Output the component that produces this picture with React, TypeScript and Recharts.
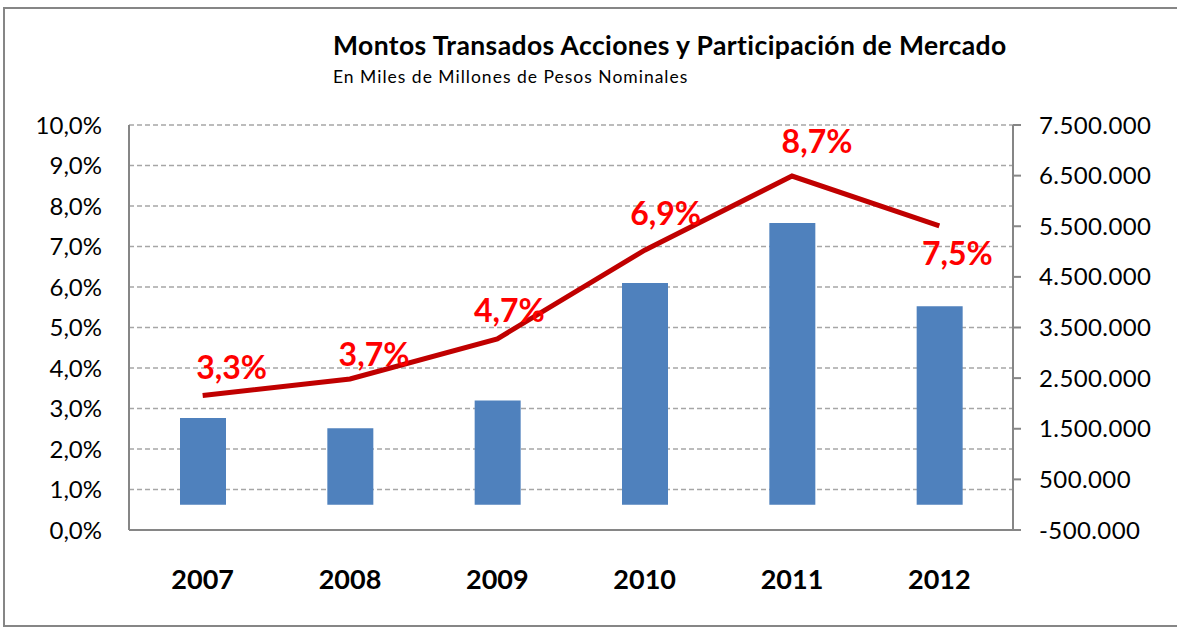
import React from 'react';
import { ComposedChart, Bar, Line, XAxis, YAxis, CartesianGrid } from 'recharts';

const years = ['2007', '2008', '2009', '2010', '2011', '2012'];
// montos transados (miles de millones de pesos), eje derecho
const montos = [1712000, 1509000, 2060000, 4380000, 5565000, 3920000];
// participación de mercado, eje izquierdo
const participacion = [0.0332, 0.0373, 0.0472, 0.0691, 0.0874, 0.0751];

const leftTicks = [0, 0.01, 0.02, 0.03, 0.04, 0.05, 0.06, 0.07, 0.08, 0.09, 0.1];
const rightTicks = [-500000, 500000, 1500000, 2500000, 3500000, 4500000, 5500000, 6500000, 7500000];

// desplazamiento manual de las etiquetas de la línea (como en el Excel original)
const labelOffsets = [
  [29, -29],
  [24, -25],
  [12, -29],
  [21, -38],
  [25, -36],
  [18, 27],
];

const FONT = 'Lato, "Open Sans", sans-serif';
const AXIS = '#868686';

const data = years.map((year, i) => ({
  year,
  monto: montos[i],
  part: participacion[i],
}));

const fmtPct = (v: number) => (v * 100).toFixed(1).replace('.', ',') + '%';
const fmtNum = (v: number) =>
  (v < 0 ? '-' : '') + String(Math.abs(v)).replace(/\B(?=(\d{3})+(?!\d))/g, '.');

const renderLabel = (props: any) => {
  const { x, y, value, index } = props;
  const [dx, dy] = labelOffsets[index] || [0, -20];
  return (
    <text
      key={`lbl-${index}`}
      x={x + dx}
      y={y + dy}
      textAnchor="middle"
      dominantBaseline="central"
      fill="#FF0000"
      fontSize={32}
      fontWeight="bold"
      fontFamily={FONT}
    >
      {fmtPct(value)}
    </text>
  );
};

export default function App() {
  return (
    <div style={{ position: 'relative', width: 1177, height: 629, overflow: 'hidden', background: '#fff', fontFamily: FONT }}>
      <style>{`body{margin:0}`}</style>
      <div
        style={{
          position: 'absolute', left: 3, top: 7, width: 1200, height: 620,
          border: `2px solid ${AXIS}`, boxSizing: 'border-box',
        }}
      />
      <div style={{ position: 'absolute', left: 333, top: 32, fontSize: 26.5, letterSpacing: 0.4, fontWeight: 'bold', lineHeight: 1, whiteSpace: 'nowrap' }}>
        Montos Transados Acciones y Participación de Mercado
      </div>
      <div style={{ position: 'absolute', left: 333, top: 68, fontSize: 17.5, letterSpacing: 1, lineHeight: 1, whiteSpace: 'nowrap' }}>
        En Miles de Millones de Pesos Nominales
      </div>
      <div style={{ position: 'absolute', left: 0, top: 0 }}>
        <ComposedChart width={1177} height={629} data={data} margin={{ top: 125, right: 0, bottom: 0, left: 0 }}>
          <CartesianGrid yAxisId="left" vertical={false} stroke="#a6a6a6" strokeWidth={1.5} strokeDasharray="5 3" />
          <XAxis
            dataKey="year"
            height={99}
            axisLine={{ stroke: AXIS, strokeWidth: 2 }}
            tickLine={false}
            tickSize={0}
            tickMargin={40}
            tick={{ fontSize: 27, fontWeight: 'bold', fill: '#000', fontFamily: FONT }}
          />
          <YAxis
            yAxisId="left"
            orientation="left"
            width={129}
            domain={[0, 0.1]}
            ticks={leftTicks}
            tickFormatter={fmtPct}
            axisLine={{ stroke: AXIS, strokeWidth: 2 }}
            tickLine={false}
            tickSize={0}
            tickMargin={27}
            tick={{ fontSize: 24, fill: '#000', fontFamily: FONT }}
          />
          <YAxis
            yAxisId="right"
            orientation="right"
            width={164}
            domain={[-500000, 7500000]}
            ticks={rightTicks}
            tickFormatter={fmtNum}
            axisLine={{ stroke: AXIS, strokeWidth: 2 }}
            tickLine={{ stroke: AXIS, strokeWidth: 2 }}
            tickSize={8}
            tickMargin={18}
            tick={{ fontSize: 24, letterSpacing: 0.4, fill: '#000', fontFamily: FONT }}
          />
          <Bar yAxisId="right" dataKey="monto" fill="#4F81BD" barSize={46} isAnimationActive={false} />
          <Line
            yAxisId="left"
            dataKey="part"
            type="linear"
            stroke="#C00000"
            strokeWidth={5}
            dot={false}
            activeDot={false}
            label={renderLabel}
            isAnimationActive={false}
          />
        </ComposedChart>
      </div>
    </div>
  );
}
